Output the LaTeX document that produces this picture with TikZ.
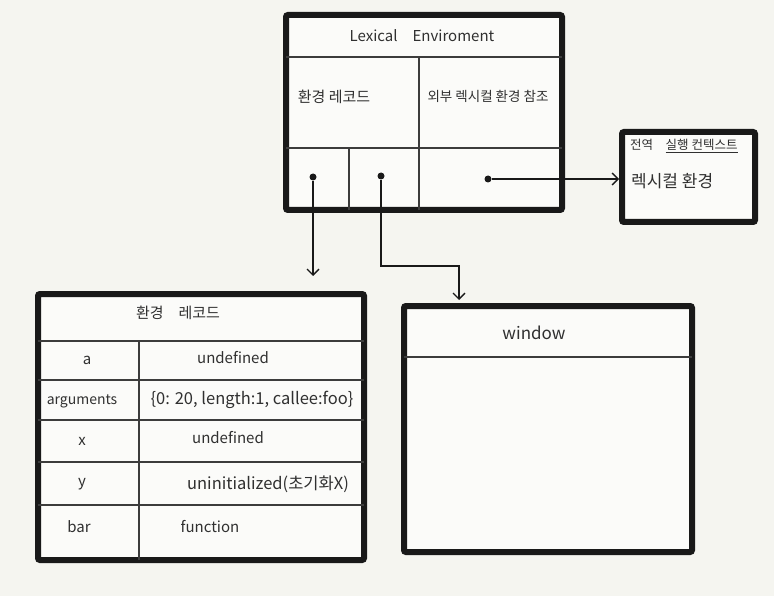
\documentclass[tikz,border=0pt]{standalone}
\usepackage{fontspec}
\setmainfont{Noto Sans CJK KR}
\usetikzlibrary{arrows.meta}
\definecolor{paper}{RGB}{245,245,240}
\definecolor{ink}{RGB}{25,25,25}
\tikzset{
  bigbox/.style={draw=ink, line width=6pt, rounded corners=2pt, fill=white!60!paper, inner sep=0pt},
  thin/.style={draw=ink!85, line width=1.4pt},
  dot/.style={circle, fill=ink, inner sep=0pt, minimum size=7pt},
  link/.style={draw=ink, line width=1.3pt, -{Straight Barb[length=6pt,width=12pt]}},
  lbl/.style={font=\fontsize{13}{15}\selectfont, text=ink!90, inner sep=1pt},
  big/.style={font=\fontsize{15}{17}\selectfont},
  bigger/.style={font=\fontsize{17}{19}\selectfont},
}
\begin{document}
\begin{tikzpicture}[x=1pt,y=-1pt]
\fill[paper] (0,0) rectangle (774,596);
\useasboundingbox (0,0) rectangle (774,596);

% Lexical environment box
\node[bigbox, minimum width=276pt, minimum height=195pt] (lex) at (424,112.5) {};
\draw[thin] (286,57) -- (562,57);
\draw[thin] (419,57) -- (419,210);
\draw[thin] (286,148) -- (562,148);
\draw[thin] (349,148) -- (349,210);
\node[lbl, big] (lexT) at (422,36) {Lexical\quad Enviroment};
\node[lbl, big] (er) at (334,97) {환경 레코드};
\node[lbl, font=\fontsize{13.5}{15}\selectfont] (outer) at (488,96) {외부 렉시컬 환경 참조};
\node[dot] (d1) at (313,177) {};
\node[dot] (d2) at (381,176) {};
\node[dot] (d3) at (488,179) {};

% Global context box
\node[bigbox, minimum width=133pt, minimum height=90pt] (glob) at (688.5,177) {};
\node[lbl, anchor=west, font=\fontsize{12.5}{14}\selectfont] (gT) at (629,146) {전역\quad \underline{실행 컨텍스트}};
\node[lbl, anchor=west, bigger] (gL) at (630,181) {렉시컬 환경};

% Environment record table
\node[bigbox, minimum width=326pt, minimum height=266pt] (rec) at (201,427) {};
\draw[thin] (38,341) -- (364,341);
\draw[thin] (38,380) -- (364,380);
\draw[thin] (38,420) -- (364,420);
\draw[thin] (38,462) -- (364,462);
\draw[thin] (38,505) -- (364,505);
\draw[thin] (139,341) -- (139,560);
\node[lbl, big] (recT) at (178,313) {환경\quad 레코드};
\node[lbl, big] (ka) at (87,360) {a};
\node[lbl, big] (va) at (233,358) {undefined};
\node[lbl, font=\fontsize{14}{16}\selectfont] (kargs) at (82,401) {arguments};
\node[lbl, font=\fontsize{16.5}{18}\selectfont] (vargs) at (252,400) {\{0: 20, length:1, callee:foo\}};
\node[lbl, big] (kx) at (82,441) {x};
\node[lbl, big] (vx) at (228,438) {undefined};
\node[lbl, big] (ky) at (82,484) {y};
\node[lbl, font=\fontsize{16.5}{18}\selectfont] (vy) at (268,484) {uninitialized(초기화X)};
\node[lbl, big] (kbar) at (79,527) {bar};
\node[lbl, big] (vbar) at (210,527) {function};

% Window box
\node[bigbox, minimum width=288pt, minimum height=246pt] (win) at (548,429) {};
\draw[thin] (404,357) -- (692,357);
\node[lbl, bigger] (winT) at (534,333) {window};

% connectors
\coordinate (e1) at (313,276);
\coordinate (e2) at (459,300);
\draw[link] (d1) -- (e1);
\draw[link] (d2) |- (459,266) -- (e2);
\draw[link] (d3) -- (d3 -| glob.west);
\end{tikzpicture}
\end{document}
